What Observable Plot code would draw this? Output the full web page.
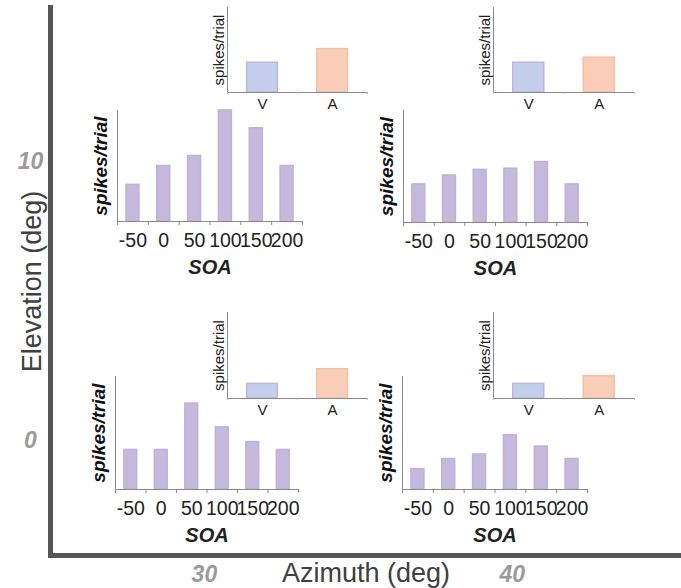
<!DOCTYPE html>
<html><head><meta charset="utf-8">
<script src="https://cdn.jsdelivr.net/npm/d3@7"></script>
<script src="https://cdn.jsdelivr.net/npm/@observablehq/plot@0.6"></script>
<style>
html,body{margin:0;padding:0;background:#fff;}
#chart{position:relative;width:681px;height:588px;overflow:hidden;}
#chart svg{position:absolute;}
</style></head><body><div id="chart"></div>
<script>
// ---- data ----
const soa = [-50, 0, 50, 100, 150, 200];
const modalities = ["V", "A"];
const azimuthTicks = [30, 40];
const elevationTicks = [0, 10];
// main response per SOA (spikes/trial, relative units)
const soaAz30El10 = [3.3, 5.0, 5.9, 10.0, 8.4, 5.0];
const soaAz40El10 = [3.4, 4.2, 4.7, 4.8, 5.4, 3.4];
const soaAz30El0  = [3.5, 3.5, 7.6, 5.5, 4.2, 3.5];
const soaAz40El0  = [1.8, 2.7, 3.1, 4.8, 3.8, 2.7];
// unisensory responses (V, A)
const vaAz30El10 = [3.5, 5.1];
const vaAz40El10 = [3.5, 4.1];
const vaAz30El0  = [1.7, 3.4];
const vaAz40El0  = [1.7, 2.6];

// ---- styles ----
const FONT = "'Liberation Sans', Arial, Helvetica, sans-serif";
const barFill = "#c5b9de", barStroke = "#c2b0d5";
const insetFill = {V: "#c4d0eb", A: "#f9cdb8"};
const insetStroke = {V: "#bdb6df", A: "#f3c1ab"};
const axisGray = "#8a8a8a";

const root = document.getElementById("chart");
const baseStyle = {background: "transparent", overflow: "visible", fontFamily: FONT};

function place(svg, left, top) {
  svg.style.left = left + "px";
  svg.style.top = top + "px";
  root.appendChild(svg);
}

// ---- outer frame ----
const outer = Plot.plot({
  width: 681, height: 588,
  marginLeft: 50, marginRight: 0, marginTop: 7, marginBottom: 33,
  style: baseStyle,
  x: {domain: [25, 45.5]},
  y: {domain: [-4.1, 15.5]},
  marks: [
    Plot.frame({anchor: "left", stroke: "#555", strokeWidth: 5}),
    Plot.frame({anchor: "bottom", stroke: "#555", strokeWidth: 5, strokeLinecap: "square"}),
    Plot.axisX({ticks: azimuthTicks, tickSize: 0, tickPadding: 10, fontSize: 23, fontWeight: "bold", fontStyle: "italic", fill: "#9b9b9b", label: null}),
    Plot.axisY({ticks: elevationTicks, tickSize: 0, tickPadding: 20, textAnchor: "middle", fontSize: 23, fontWeight: "bold", fontStyle: "italic", fill: "#9b9b9b", label: null}),
    Plot.axisX({ticks: [], label: "Azimuth (deg)", labelAnchor: "center", labelArrow: "none", labelOffset: 26, fontSize: 27, fill: "#404040"}),
    Plot.axisY({ticks: [], label: "Elevation (deg)", labelAnchor: "center", labelArrow: "none", labelOffset: 29, fontSize: 27, fill: "#404040"})
  ]
});
place(outer, 0, 0);

// ---- main SOA chart ----
function mainChart(values, box) {
  const m = {l: 32, r: 14, t: 4, b: 58};
  const data = soa.map((s, i) => ({i, s, v: values[i]}));
  const svg = Plot.plot({
    width: box.right - box.left + m.l + m.r,
    height: box.bottom - box.top + m.t + m.b,
    marginLeft: m.l, marginRight: m.r, marginTop: m.t, marginBottom: m.b,
    style: baseStyle,
    x: {type: "linear", domain: [-0.5, soa.length - 0.5]},
    y: {domain: [0, 10]},
    marks: [
      Plot.rectY(data, {x1: d => d.i - 0.21, x2: d => d.i + 0.21, y: "v", fill: barFill, stroke: barStroke, strokeWidth: 1.5}),
      Plot.frame({anchor: "left", stroke: axisGray}),
      Plot.frame({anchor: "bottom", stroke: axisGray}),
      Plot.axisX({ticks: d3.range(-0.5, soa.length), tickSize: 4, stroke: axisGray, fill: "none", label: null}),
      Plot.axisX({ticks: data.map(d => d.i), tickSize: 0, tickPadding: 12, tickFormat: i => soa[i], fontSize: 19.5, fill: "#222", label: null}),
      Plot.axisX({ticks: [], label: "SOA", labelAnchor: "center", labelArrow: "none", labelOffset: 52, fontSize: 20, fontWeight: "bold", fontStyle: "italic", fill: "#222"}),
      Plot.axisY({ticks: [], label: "spikes/trial", labelAnchor: "center", labelArrow: "none", labelOffset: 24, fontSize: 19, fontWeight: "bold", fontStyle: "italic", fill: "#111"})
    ]
  });
  place(svg, box.left - m.l, box.top - m.t);
}

// ---- inset V/A chart ----
function insetChart(values, box) {
  const m = {l: 20, r: 6, t: 2, b: 22};
  const data = modalities.map((k, i) => ({i, k, v: values[i]}));
  const svg = Plot.plot({
    width: box.right - box.left + m.l + m.r,
    height: box.bottom - box.top + m.t + m.b,
    marginLeft: m.l, marginRight: m.r, marginTop: m.t, marginBottom: m.b,
    style: baseStyle,
    x: {type: "linear", domain: [-0.5, modalities.length - 0.5]},
    y: {domain: [0, 10]},
    color: {type: "identity"},
    marks: [
      Plot.rectY(data, {x1: d => d.i - 0.22, x2: d => d.i + 0.22, y: "v", fill: d => insetFill[d.k], stroke: d => insetStroke[d.k], strokeWidth: 1.5}),
      Plot.frame({anchor: "left", stroke: axisGray}),
      Plot.frame({anchor: "bottom", stroke: axisGray}),
      Plot.axisX({ticks: d3.range(-0.5, modalities.length), tickSize: 2, stroke: "#bbb", fill: "none", label: null}),
      Plot.axisX({ticks: data.map(d => d.i), tickSize: 0, tickPadding: 6, tickFormat: i => modalities[i], fontSize: 15, fill: "#222", label: null}),
      Plot.axisY({ticks: [], label: "spikes/trial", labelAnchor: "center", labelArrow: "none", labelOffset: 14, fontSize: 15, fill: "#222"})
    ]
  });
  place(svg, box.left - m.l, box.top - m.t);
}

// layout (plot-area boxes in page pixels)
mainChart(soaAz30El10, {left: 117, top: 110, right: 302, bottom: 221});
mainChart(soaAz40El10, {left: 403, top: 110, right: 587, bottom: 222});
mainChart(soaAz30El0,  {left: 115, top: 376, right: 298, bottom: 489});
mainChart(soaAz40El0,  {left: 402, top: 376, right: 587, bottom: 489});
insetChart(vaAz30El10, {left: 227, top: 7,   right: 367, bottom: 92});
insetChart(vaAz40El10, {left: 493, top: 7,   right: 634, bottom: 92});
insetChart(vaAz30El0,  {left: 227, top: 312, right: 367, bottom: 398});
insetChart(vaAz40El0,  {left: 493, top: 312, right: 634, bottom: 398});
</script>
</body></html>
